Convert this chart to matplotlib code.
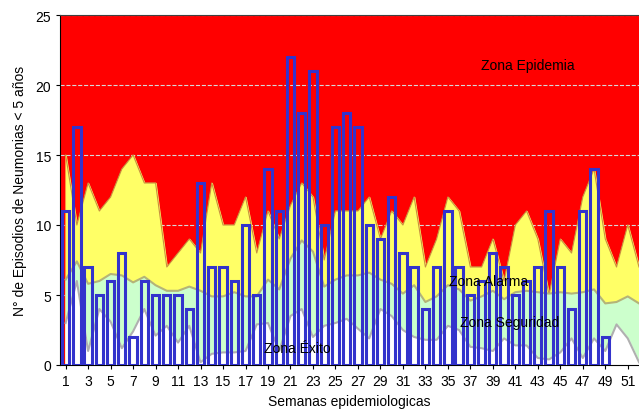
import matplotlib
matplotlib.use("Agg")
import matplotlib.pyplot as plt
import numpy as np

plt.rcParams['font.family'] = ['Liberation Sans', 'DejaVu Sans']

weeks = list(range(1, 53))

# casos por semana (semanas 1-49)
casos = [11, 17, 7, 5, 6, 8, 2, 6, 5, 5, 5, 4, 13, 7, 7, 6, 10, 5, 14, 11,
         22, 18, 21, 10, 17, 18, 17, 10, 9, 12, 8, 7, 4, 7, 11, 7, 5, 6, 8, 7,
         5, 6, 7, 11, 7, 4, 11, 14, 2]

# limite superior de la zona de alarma (inicio de epidemia)
alarma = [15, 10, 13, 11, 12, 14, 15, 13, 13, 7, 8, 9, 8, 13, 10, 10, 12, 8, 11, 9,
          11.4, 13, 12, 7.5, 11, 11, 11, 12, 9, 11, 10, 12, 7, 9, 12, 11, 7, 7, 9, 6,
          10, 11, 9, 5, 9, 8, 12, 14, 9, 7, 10, 7]

# limite superior de la zona de seguridad
seguridad = [6.1, 7.4, 5.8, 6.0, 6.5, 6.4, 5.9, 6.3, 5.7, 5.3, 5.3, 5.6, 5.3, 4.9, 4.9, 5.2,
             4.9, 4.9, 6.1, 5.4, 7.6, 8.9, 8.1, 5.6, 6.1, 6.4, 6.4, 6.6, 6.1, 5.8, 5.1, 5.7,
             4.5, 4.9, 5.7, 5.4, 4.6, 4.9, 5.3, 4.7, 5.2, 5.3, 5.2, 5.1, 5.2, 5.1, 5.2, 5.4,
             4.4, 4.5, 4.9, 4.4]

# limite superior de la zona de exito
exito = [3.0, 6.0, 1.0, 4.0, 3.1, 1.2, 2.4, 4.0, 2.1, 2.8, 1.6, 2.8, 0.2, 0.8, 0.9, 0.9,
         1.0, 2.9, 3.0, 1.0, 3.5, 4.0, 2.0, 2.8, 3.0, 3.3, 2.6, 1.9, 4.0, 3.5, 2.5, 2.0,
         1.8, 1.8, 2.8, 2.5, 1.3, 1.2, 1.0, 1.9, 1.4, 1.4, 0.5, 0.4, 0.9, 1.9, 0.5, 1.9,
         1.0, 2.9, 1.9, 0.2]

xticks = list(range(1, 52, 2))

fig = plt.figure(figsize=(6.39, 4.14), dpi=100)
ax = fig.add_axes([60/639, 48/414, 579/639, 350/414])
ax.set_facecolor('#FF0000')

ax.fill_between(weeks, 0, alarma, color='#FFFF66', zorder=1)
ax.plot(weeks, alarma, color='#C89040', lw=0.8, zorder=1.1)
ax.fill_between(weeks, 0, seguridad, color='#CCFFCC', zorder=1.2)
ax.plot(weeks, seguridad, color='#B4B478', lw=1.5, zorder=1.3)
ax.fill_between(weeks, 0, exito, color='white', zorder=1.4)
ax.plot(weeks, exito, color='#B0B0B0', lw=1.5, zorder=1.5)

ax.bar(weeks[:len(casos)], casos, width=0.65, facecolor='none',
       edgecolor='#3333CC', linewidth=2.2, zorder=3)

ax.set_axisbelow(True)
ax.yaxis.grid(True, linestyle='--', color='#D8D8D8', linewidth=0.8)

ax.set_xlim(0.5, 52.0)
ax.set_ylim(0, 25)
ax.set_yticks([0, 5, 10, 15, 20, 25])
ax.set_xticks(xticks)
ax.tick_params(axis='both', labelsize=10, length=3, direction='out')
ax.spines['right'].set_visible(False)
ax.spines['top'].set_color('#404040')

ax.text(42.1, 21.4, 'Zona Epidemia', fontsize=10, ha='center', va='center', zorder=4)
ax.text(38.6, 6.0, 'Zona Alarma', fontsize=10, ha='center', va='center', zorder=4)
ax.text(40.5, 3.1, 'Zona Seguridad', fontsize=10, ha='center', va='center', zorder=4)
ax.text(21.6, 1.2, 'Zona Éxito', fontsize=10, ha='center', va='center', zorder=4)

ax.set_xlabel('Semanas epidemiologicas', fontsize=10, labelpad=4)
ax.set_ylabel('N° de Episodios de Neumonias < 5 años', fontsize=10, labelpad=6)

fig.savefig('out.png', dpi=100)
